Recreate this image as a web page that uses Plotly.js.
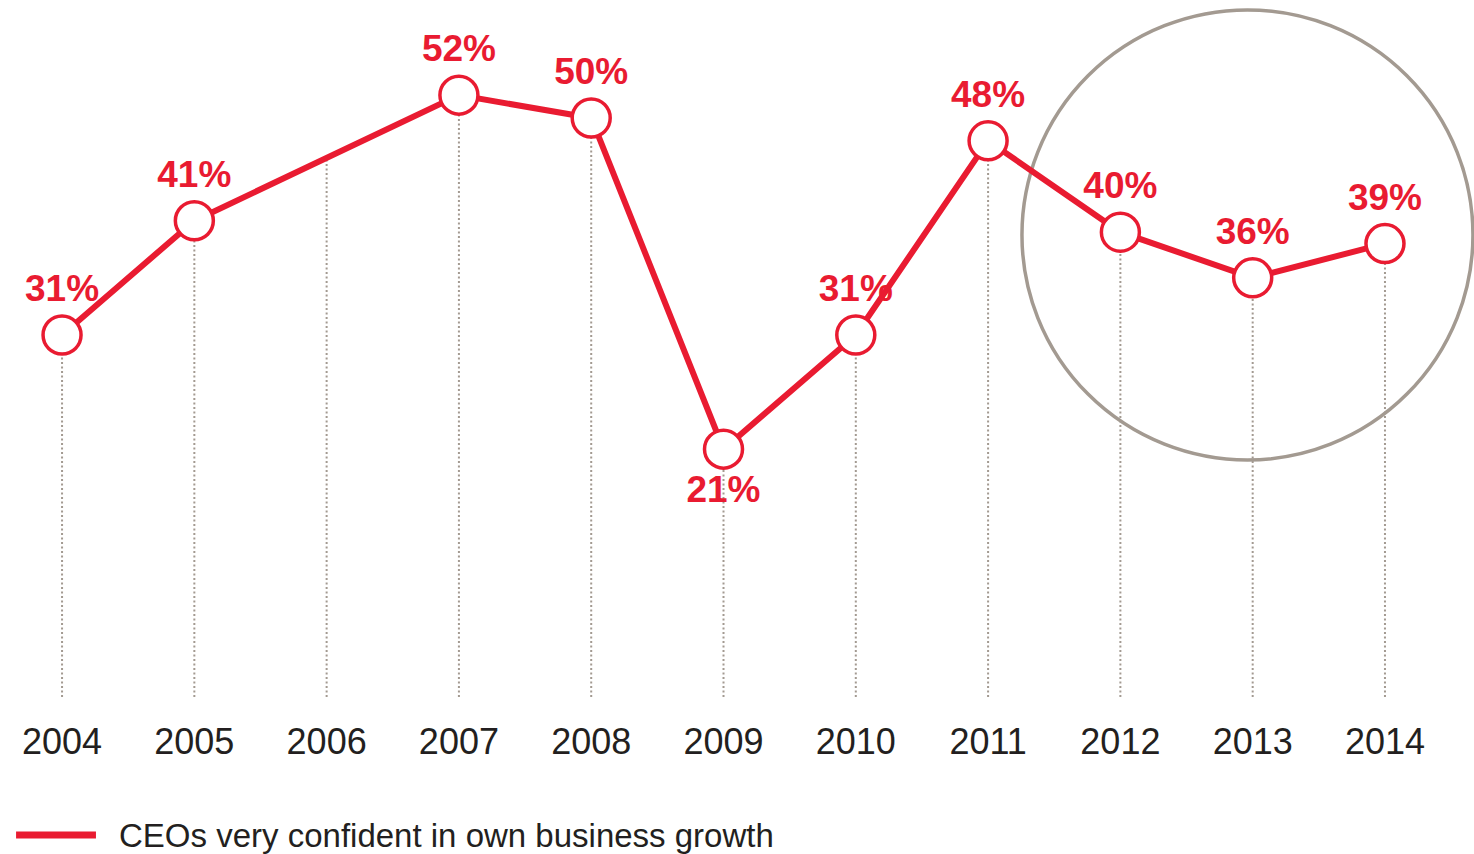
<!DOCTYPE html>
<html>
<head>
<meta charset="utf-8">
<script src="https://cdn.plot.ly/plotly-3.0.1.min.js"></script>
<style>html,body{margin:0;padding:0;background:#fff;}#chart{width:1474px;height:854px;}</style>
</head>
<body>
<div id="chart"></div>
<script>
// Data
const years = [2004, 2005, 2006, 2007, 2008, 2009, 2010, 2011, 2012, 2013, 2014];
const values = [31, 41, null, 52, 50, 21, 31, 48, 40, 36, 39];
const labels = ["31%", "41%", "", "52%", "50%", "21%", "31%", "48%", "40%", "36%", "39%"];
const labelPos = ["top center","top center","top center","top center","top center","bottom center","top center","top center","top center","top center","top center"];
const seriesName = "CEOs very confident in own business growth";

const RED = "#e91b31";
const GREY = "#a39a91";
const yMin = -0.7, yMax = 60.33;

// value on line for years without a point (interpolated between neighbours for the dotted guide)
function lineValue(i) {
  if (values[i] !== null) return values[i];
  let a = i - 1, b = i + 1;
  while (a >= 0 && values[a] === null) a--;
  while (b < values.length && values[b] === null) b++;
  const t = (years[i] - years[a]) / (years[b] - years[a]);
  return values[a] + t * (values[b] - values[a]);
}

const gx = [], gy = [];
years.forEach((yr, i) => { gx.push(yr, yr, null); gy.push(yMin, lineValue(i), null); });

const guides = {
  x: gx, y: gy, mode: "lines", type: "scatter", hoverinfo: "skip", showlegend: false,
  line: { color: GREY, width: 2, dash: "2px,2.5px" }
};

const main = {
  x: years, y: values, type: "scatter", mode: "lines+markers+text",
  name: seriesName, connectgaps: true, showlegend: false,
  line: { color: RED, width: 6 },
  marker: { size: 38, color: "#ffffff", line: { color: RED, width: 3.5 } },
  text: labels, textposition: labelPos,
  textfont: { family: "Liberation Sans, Arial, sans-serif", size: 37, color: RED, weight: "bold" },
  cliponaxis: false
};

const layout = {
  width: 1474, height: 854,
  margin: { l: 0, r: 0, t: 0, b: 157 },
  paper_bgcolor: "#ffffff", plot_bgcolor: "#ffffff",
  showlegend: false,
  xaxis: {
    range: [2003.531, 2014.673], tickmode: "array", tickvals: years, ticktext: years.map(String),
    showgrid: false, zeroline: false, showline: false,
    ticks: "outside", ticklen: 13, tickcolor: "rgba(0,0,0,0)",
    tickfont: { family: "Liberation Sans, Arial, sans-serif", size: 36, color: "#231f20" }
  },
  yaxis: { range: [yMin, yMax], visible: false, showgrid: false, zeroline: false },
  shapes: [
    { type: "circle", xref: "x", yref: "y", x0: 2011.256, x1: 2014.665, y0: 20.05, y1: 59.46,
      line: { color: GREY, width: 3.5 }, layer: "below" },
    { type: "line", xref: "paper", yref: "paper", x0: 0.0109, x1: 0.0651, y0: -0.198, y1: -0.198,
      line: { color: RED, width: 7 } }
  ],
  annotations: [
    { xref: "paper", yref: "paper", x: 0.0795, y: -0.198, xanchor: "left", yanchor: "middle",
      text: seriesName, showarrow: false,
      font: { family: "Liberation Sans, Arial, sans-serif", size: 33, color: "#231f20" } }
  ]
};

Plotly.newPlot("chart", [guides, main], layout, { displayModeBar: false, staticPlot: true });
</script>
</body>
</html>
